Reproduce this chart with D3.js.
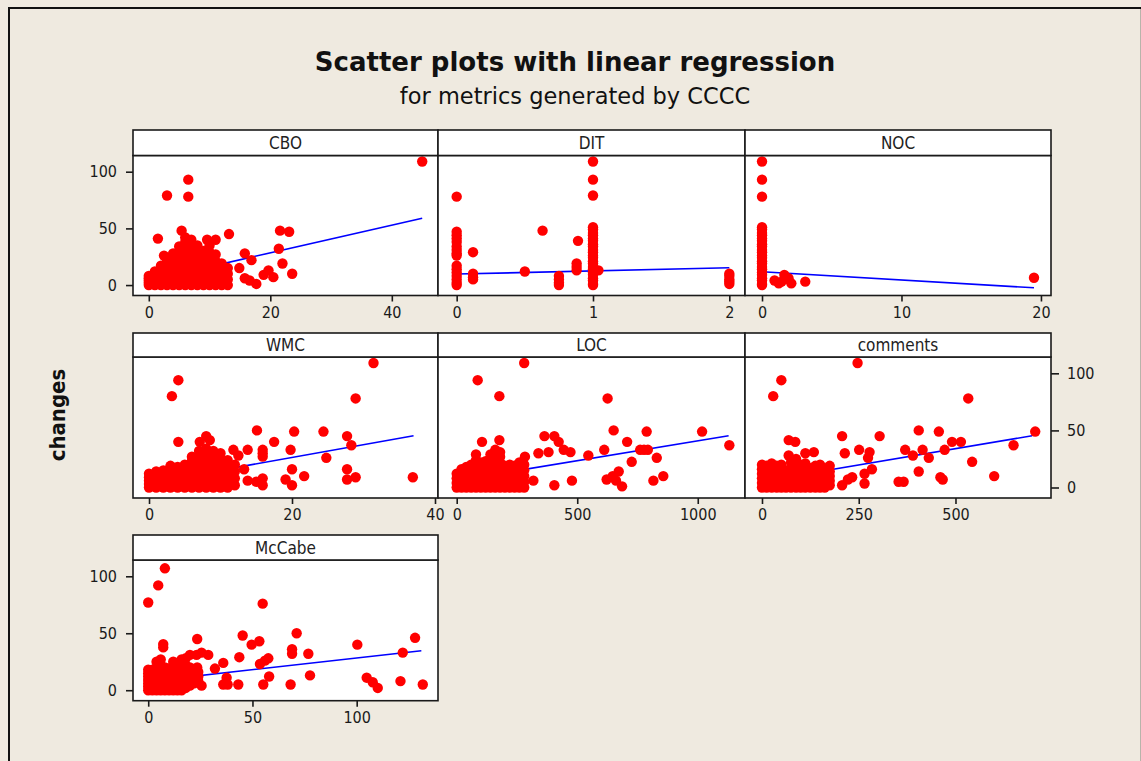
<!DOCTYPE html>
<html><head><meta charset="utf-8">
<script src="https://cdn.jsdelivr.net/npm/d3@7"></script>
<style>body{margin:0;background:#efeae0} svg{display:block}</style>
</head><body><svg id="c" width="1141" height="761"></svg>
<script>
// ---------------- DATA ----------------
const titleText = "Scatter plots with linear regression";
const subtitleText = "for metrics generated by CCCC";
const yLabel = "changes";
const metrics = ["CBO", "DIT", "NOC", "WMC", "LOC", "comments", "McCabe"];
const yTicks = [0, 50, 100];

const cboTicks = [0, 20, 40];
const ditTicks = [0, 1, 2];
const nocTicks = [0, 10, 20];
const wmcTicks = [0, 20, 40];
const locTicks = [0, 500, 1000];
const commentsTicks = [0, 250, 500];
const mccabeTicks = [0, 50, 100];

// individual points [metric value, changes]
const cboPoints = [[45,109],[6.5,93],[3,79],[6.5,78],[1.5,41],[5.4,48],[13.2,45],[9.6,40],[11,40],[21.6,48],[23.1,47],[21.4,32],[15.8,28],[16.9,22],[22,19],[23.6,10],[14.9,15],[15.8,6],[16.6,4],[17.7,1],[19.7,13],[18.9,9],[20.5,7],[2.5,26]];
// stacked columns [metric value, [changes...]]
const cboColumns = [
  [0,[0,2,4,6,8]],[1,[0,2,4,7,10,12]],[2,[0,3,5,8,11,14,17]],[3,[0,3,6,9,12,15,18,21]],
  [4,[0,2,5,8,11,14,17,20,24,28]],[5,[0,3,6,9,12,15,18,22,26,30,34]],
  [6,[0,2,5,8,11,14,17,20,23,27,31,35,38,42]],[7,[0,3,6,9,12,16,20,24,28,32,36,40]],
  [8,[0,3,7,11,15,19,23,27,31,35]],[9,[0,4,8,12,16,20,25,30]],[10,[0,4,8,13,18,24,29,35]],
  [11,[0,5,10,15,21,27]],[12,[0,4,9,14,19]],[13,[0,5,10,15]]];

const ditPoints = [[0.5,12],[0.63,48],[0.89,39],[1.04,13]];
const ditColumns = [
  [0,[78,47,44,41,38,34,31,28,26,17,14,11,8,5,2,0]],[0.12,[29,10,7,5]],[0.75,[8,5,2,0]],[0.88,[19,16,13]],
  [1,[109,93,79,51,49,46,44,41,39,36,34,31,29,26,24,21,19,16,14,11,9,6,4,1,0]],[2,[10,8,5,3,1]]];

const nocPoints = [[0.9,4],[1.2,1.5],[1.6,9],[1.4,3],[2.1,1.5],[1.9,6],[3.1,3],[19.5,6.5]];
const nocColumns = [[0,[109,93,78,51,49,46,44,41,39,36,34,31,29,26,24,21,19,16,14,11,9,6,4,1,0]]];

const wmcPoints = [[31.4,109],[4.1,94],[3.2,80],[28.9,78],[4.1,40],[7.1,40],[8,45],[8.5,41.5],[15.1,50],[20.3,49],[24.4,49],[27.7,45],[28.3,37],[17.5,40],[11.8,33],[13.8,33],[12.5,28],[15.9,33],[15.9,30],[15.9,27],[19.8,33],[24.8,26],[20,16],[21.7,10],[19.1,7],[20,2],[27.7,16],[27.7,7],[28.9,9],[36.9,9],[13.3,16],[13.8,6],[15.9,8],[15.9,2],[15,5]];
const wmcColumns = [
  [0,[0,3,6,9,12]],[1,[0,3,6,10,14]],[2,[0,3,6,9,12,15]],[3,[0,4,8,12,16,19]],[4,[0,3,6,10,14,18]],
  [5,[0,4,8,12,16,20]],[6,[0,3,7,11,15,19,23,27]],[7,[0,4,8,12,16,20,24,28,32]],
  [8,[0,3,7,11,15,20,25,30,34]],[9,[0,4,8,13,18,23,28,32]],[10,[0,5,10,15,20,25,30]],
  [11,[0,4,9,14,19,24]],[12,[2,8,14,20]]];

const locPoints = [[280,109],[87,94],[177,80],[626,78],[105,40],[177,41.5],[364,45],[405,45],[423,40],[444,33],[472,31],[339,30],[381,31],[546,28],[612,33],[651,50],[707,40],[788,49],[761,33],[777,33],[793,33],[830,26],[726,22.5],[1018,49],[1131,37],[672,14],[647,10],[622,7],[661,6],[686,1],[816,6],[857,10],[405,2],[478,6],[318,6],[283,27]];
const locColumns = [
  [0,[0,4,8,12]],[20,[0,4,8,12,16]],[40,[0,3,7,11,15,18]],[60,[0,4,8,12,16,20]],
  [80,[0,3,7,11,15,19,24,29]],[100,[0,4,8,12,17,22]],[120,[0,3,7,11,15,19,23]],
  [140,[0,4,8,12,16,20,25,29]],[160,[0,3,7,11,15,20,25,30,33]],[180,[0,4,8,12,17,22,27,31]],
  [200,[0,3,7,11,15,19]],[220,[0,4,8,12,16,20]],[240,[0,3,7,11,15,19]],[260,[0,4,8,12,16,22]],[280,[0,5,10,15,20]]];

const commentsPoints = [[247,109],[50,94],[29,80],[533,78],[69,41.5],[86,40],[207,45],[304,45],[405,50],[457,49],[491,40],[514,40],[472,33],[415,33],[431,26],[370,33],[390,28],[251,33],[278,31],[274,26],[214,30],[284,16],[265,12],[265,3.5],[233,9],[222,7],[207,2],[353,5],[366,5],[405,14],[461,9],[467,7],[543,22.5],[600,10],[650,37],[706,49],[69,28],[112,30],[134,31]];
const commentsColumns = [
  [0,[0,4,8,12,16,20]],[12,[0,3,7,11,15,19]],[25,[0,4,8,12,16,21]],[38,[0,3,7,11,15,19]],
  [50,[0,4,8,12,16,20]],[62,[0,3,7,11,15]],[75,[0,4,8,12,17,22]],[88,[0,3,7,11,15,19,25]],
  [100,[0,4,8,12,16,20]],[112,[0,3,7,11,15,21]],[125,[0,4,8,12,17]],[138,[0,3,7,11,15,19]],
  [150,[0,4,8,12,16,20]],[162,[0,3,7,11,17]],[175,[2,6,10,14,19]]];

const mccabePoints = [[8,107],[4.8,92],[0,77],[54.9,76],[7.2,40.5],[7.2,37.6],[23.5,45],[45.3,48],[71.2,50],[49.6,40],[53.3,43],[69,36],[69,32],[76.8,32],[77.6,13],[100.3,40],[122.1,33],[128,46],[131.7,5],[121,8],[104.8,11],[107.7,7],[110.1,2],[68.3,5],[55.2,5],[58,12],[53.6,23],[56,26],[57.6,28],[43.7,29],[43.2,5],[38.1,5],[36,24],[37.6,11],[36,5],[32,19],[28.8,31],[25.6,33],[23.2,31],[20,31],[18,28],[25.6,4],[23.5,20]];
const mccabeColumns = [
  [0,[0,3,6,9,12,15,18]],[2,[0,3,6,9,12,15,18]],[4,[0,4,8,12,16,20,25]],[6,[0,3,6,10,14,18,22,27]],
  [8,[0,4,8,12,16,20]],[10,[0,3,7,11,15,19]],[12,[0,4,8,12,16,21,25]],[14,[0,3,7,11,15,19,24]],
  [16,[0,4,8,12,16,22,27]],[18,[2,6,10,14,18,22]],[20,[4,8,12,16,20]],[22,[6,10,14,18]],[24,[8,12,16]]];

// fitted regression lines: endpoints [metric value, changes]
const fitCBO = [[0,4],[45,59]];
const fitDIT = [[0,9.7],[2,15.3]];
const fitNOC = [[0,11.8],[19.5,-2.4]];
const fitWMC = [[0,4],[37,45.3]];
const fitLOC = [[0,6],[1128,45.3]];
const fitComments = [[0,5.4],[698,45.3]];
const fitMcCabe = [[0,7.8],[131,34.6]];

// x-axis domains
const cboDomain = [-2.6, 47.6];
const ditDomain = [-0.137, 2.115];
const nocDomain = [-1.22, 20.72];
const wmcDomain = [-2.24, 40.42];
const locDomain = [-77.6, 1196];
const commentsDomain = [-43.9, 746.8];
const mccabeDomain = [-7.3, 139];
const yDomain = [-9.2, 114.3];

// ---------------- LAYOUT ----------------
const expand = cols => cols.flatMap(([x, ys]) => ys.map(y => [x, y]));
const panels = [
  {name: metrics[0], pts: cboPoints.concat(expand(cboColumns)), fit: fitCBO, ticks: cboTicks, dom: cboDomain, col: 0, row: 0, yAxis: "left"},
  {name: metrics[1], pts: ditPoints.concat(expand(ditColumns)), fit: fitDIT, ticks: ditTicks, dom: ditDomain, col: 1, row: 0},
  {name: metrics[2], pts: nocPoints.concat(expand(nocColumns)), fit: fitNOC, ticks: nocTicks, dom: nocDomain, col: 2, row: 0},
  {name: metrics[3], pts: wmcPoints.concat(expand(wmcColumns)), fit: fitWMC, ticks: wmcTicks, dom: wmcDomain, col: 0, row: 1},
  {name: metrics[4], pts: locPoints.concat(expand(locColumns)), fit: fitLOC, ticks: locTicks, dom: locDomain, col: 1, row: 1},
  {name: metrics[5], pts: commentsPoints.concat(expand(commentsColumns)), fit: fitComments, ticks: commentsTicks, dom: commentsDomain, col: 2, row: 1, yAxis: "right"},
  {name: metrics[6], pts: mccabePoints.concat(expand(mccabeColumns)), fit: fitMcCabe, ticks: mccabeTicks, dom: mccabeDomain, col: 0, row: 2, yAxis: "left"}
];
const colX = [[133, 438], [438, 745], [745, 1051]];
const rowY = [{s: 130, t: 155.5, b: 295.5}, {s: 333, t: 357, b: 498}, {s: 535, t: 560, b: 700.7}];

const FONT = "'DejaVu Sans Condensed', 'DejaVu Sans', sans-serif";
const TFONT = "'DejaVu Sans', sans-serif";
const svg = d3.select("#c");
svg.append("rect").attr("width", 1141).attr("height", 761).attr("fill", "#efeae0");
// outer frame
svg.append("line").attr("x1", 8).attr("x2", 1141).attr("y1", 8).attr("y2", 8).attr("stroke", "#111").attr("stroke-width", 2);
svg.append("line").attr("x1", 9).attr("x2", 9).attr("y1", 7).attr("y2", 761).attr("stroke", "#111").attr("stroke-width", 2);
svg.append("line").attr("x1", 1140.5).attr("x2", 1140.5).attr("y1", 9).attr("y2", 761).attr("stroke", "#b8b4aa").attr("stroke-width", 1);

svg.append("text").attr("x", 575).attr("y", 71).attr("text-anchor", "middle")
  .attr("font-family", TFONT).attr("font-weight", "bold").attr("font-size", 26).attr("fill", "#111").text(titleText);
svg.append("text").attr("x", 575).attr("y", 104).attr("text-anchor", "middle")
  .attr("font-family", TFONT).attr("font-size", 22.5).attr("fill", "#111").text(subtitleText);
svg.append("text").attr("transform", "translate(57.5,415) rotate(-90)").attr("text-anchor", "middle")
  .attr("dominant-baseline", "central").attr("font-family", FONT).attr("font-weight", "bold")
  .attr("font-size", 22).attr("fill", "#111").text(yLabel);

const defs = svg.append("defs");

panels.forEach((p, i) => {
  const [x0, x1] = colX[p.col];
  const r = rowY[p.row];
  const x = d3.scaleLinear().domain(p.dom).range([x0, x1]);
  const y = d3.scaleLinear().domain(yDomain).range([r.b, r.t]);
  const g = svg.append("g");
  defs.append("clipPath").attr("id", "clip" + i).append("rect")
    .attr("x", x0).attr("y", r.t).attr("width", x1 - x0).attr("height", r.b - r.t);
  g.append("rect").attr("x", x0).attr("y", r.t).attr("width", x1 - x0).attr("height", r.b - r.t).attr("fill", "#fff");
  const inner = g.append("g").attr("clip-path", `url(#clip${i})`);
  inner.append("path").datum(p.fit)
    .attr("d", d3.line().x(d => x(d[0])).y(d => y(d[1])))
    .attr("fill", "none").attr("stroke", "#0000ff").attr("stroke-width", 1.6);
  inner.selectAll("circle").data(p.pts).join("circle")
    .attr("cx", d => x(d[0])).attr("cy", d => y(d[1])).attr("r", 5.2).attr("fill", "#ff0000");
  g.append("rect").attr("x", x0).attr("y", r.t).attr("width", x1 - x0).attr("height", r.b - r.t)
    .attr("fill", "none").attr("stroke", "#1a1a1a").attr("stroke-width", 1.6);
  // strip
  g.append("rect").attr("x", x0).attr("y", r.s).attr("width", x1 - x0).attr("height", r.t - r.s)
    .attr("fill", "#fff").attr("stroke", "#1a1a1a").attr("stroke-width", 1.6);
  g.append("text").attr("x", (x0 + x1) / 2).attr("y", (r.s + r.t) / 2).attr("text-anchor", "middle")
    .attr("dominant-baseline", "central").attr("font-family", FONT).attr("font-size", 17).attr("fill", "#222").text(p.name);
  // x axis
  g.append("g").attr("transform", `translate(0,${r.b})`)
    .call(d3.axisBottom(x).tickValues(p.ticks).tickSize(6).tickPadding(5).tickFormat(d3.format("d")));
  if (p.yAxis === "left") {
    g.append("g").attr("transform", `translate(${x0},0)`)
      .call(d3.axisLeft(y).tickValues(yTicks).tickSize(7).tickPadding(9));
  } else if (p.yAxis === "right") {
    g.append("g").attr("transform", `translate(${x1},0)`)
      .call(d3.axisRight(y).tickValues(yTicks).tickSize(8).tickPadding(8));
  }
});
svg.selectAll(".domain").remove();
svg.selectAll(".tick line").attr("stroke", "#1a1a1a").attr("stroke-width", 1.6);
svg.selectAll(".tick text").attr("font-family", FONT).attr("font-size", 16).attr("fill", "#1a1a1a");
</script>
</body></html>
